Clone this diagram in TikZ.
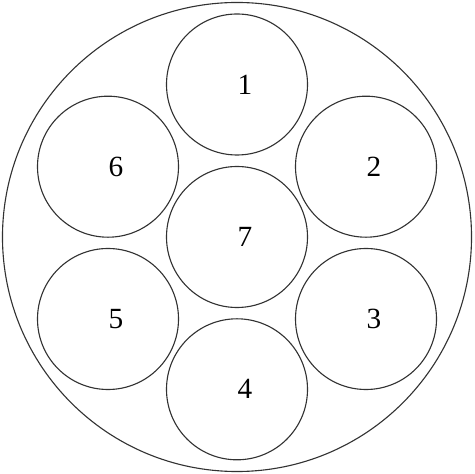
\documentclass[tikz,border=0pt]{standalone}
\usepackage{fontspec}
\setmainfont{Liberation Serif}
\usetikzlibrary{positioning}
\definecolor{penline}{RGB}{50,50,50}

\begin{document}
\begin{tikzpicture}[x=0.03cm,y=0.03cm,
      cell/.style={circle,draw=penline,line width=0.95pt,minimum size=4.23cm,
                   inner sep=0pt,outer sep=0pt},
      lbl/.style={xshift=0.24cm,font=\fontsize{25}{25}\selectfont},
      shell/.style={circle,draw=penline,line width=0.95pt,minimum size=14.07cm,
                    inner sep=0pt}]
    \useasboundingbox (0,0) rectangle (474,474);

    % ---- outer ring ------------------------------------------------------
    \node[shell] (outer) at (237,237) {};

    % ---- seven inner cells ----------------------------------------------
    \node[cell,label={[lbl]center:1}] (c1) at (237,389.5) {};
    \node[cell,label={[lbl]center:2}] (c2) at (366,307.3) {};
    \node[cell,label={[lbl]center:3}] (c3) at (366,155) {};
    \node[cell,label={[lbl]center:4}] (c4) at (237,84.7) {};
    \node[cell,label={[lbl]center:5}] (c5) at (108,155) {};
    \node[cell,label={[lbl]center:6}] (c6) at (108,307.3) {};
    \node[cell,label={[lbl]center:7}] (c7) at (237,237) {};
  \end{tikzpicture}
\end{document}
